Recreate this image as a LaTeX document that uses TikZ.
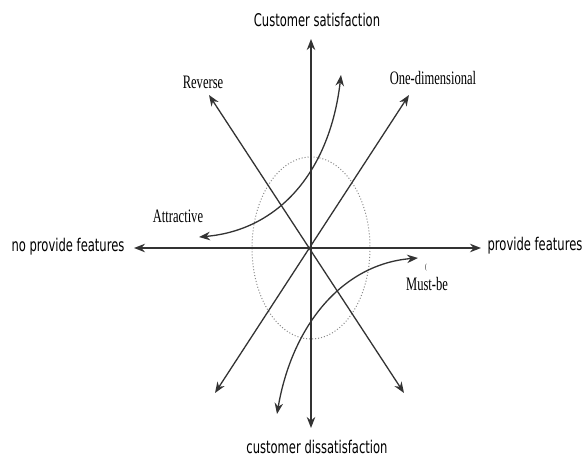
\documentclass[tikz,border=0pt]{standalone}
\usepackage{fontspec}
\usetikzlibrary{arrows.meta}
\newfontfamily\axisfont[FakeStretch=0.66]{DejaVu Sans}
\newfontfamily\typefont[FakeStretch=0.66]{Liberation Serif}
\definecolor{lineclr}{HTML}{333333}
\definecolor{dotclr}{HTML}{8A8A8A}
\tikzset{
  axislabel/.style={inner sep=0pt, font=\axisfont\fontsize{17.5}{20}\selectfont, text=black},
  typelabel/.style={inner sep=0pt, font=\typefont\fontsize{19}{22}\selectfont, text=black},
  conn/.style={draw=lineclr, line width=1.3pt, >={Stealth[length=11pt,width=8.5pt]}},
  zone/.style={draw=dotclr, dotted, line width=1pt}
}
\begin{document}
\begin{tikzpicture}[x=1pt,y=-1pt]
\useasboundingbox (0,0) rectangle (583,457);
% points
\coordinate (O) at (311,248);
\coordinate (top) at (311,39);
\coordinate (bot) at (311,428);
\coordinate (lft) at (134,248);
\coordinate (rgt) at (481,248);
\coordinate (revU) at (209,95);
\coordinate (revD) at (404,393);
\coordinate (oneU) at (409,95);
\coordinate (oneD) at (215,393);
\coordinate (attL) at (199,237);
\coordinate (attU) at (341,75);
\coordinate (mustR) at (418,258);
\coordinate (mustD) at (277,414);
% dotted zone
\draw[zone] (O) ellipse [x radius=59, y radius=91];
% axes and lines
\draw[conn,<->] (lft) -- (rgt);
\draw[conn,<->] (bot) -- (top);
\draw[conn,<->] (revD) -- (revU);
\draw[conn,<->] (oneD) -- (oneU);
% curves
\draw[conn,<->] (attL) .. controls (280,230) and (330,170) .. (attU);
\draw[conn,<->] (mustR) .. controls (342,264) and (292,326) .. (mustD);
% labels
\node[axislabel] (cs) at (317,20) {Customer satisfaction};
\node[axislabel] (cd) at (317,447) {customer dissatisfaction};
\node[axislabel] (npf) at (68,247) {no provide features};
\node[axislabel] (pf) at (535,246) {provide features};
\node[typelabel] (rev) at (203,82) {Reverse};
\node[typelabel] (one) at (433,78) {One-dimensional};
\node[typelabel] (att) at (178,216) {Attractive};
\node[typelabel] (must) at (427,284) {Must-be};
\node[inner sep=0pt, font=\typefont\fontsize{8}{9}\selectfont] (mark) at (426,268) {(};
\end{tikzpicture}
\end{document}
